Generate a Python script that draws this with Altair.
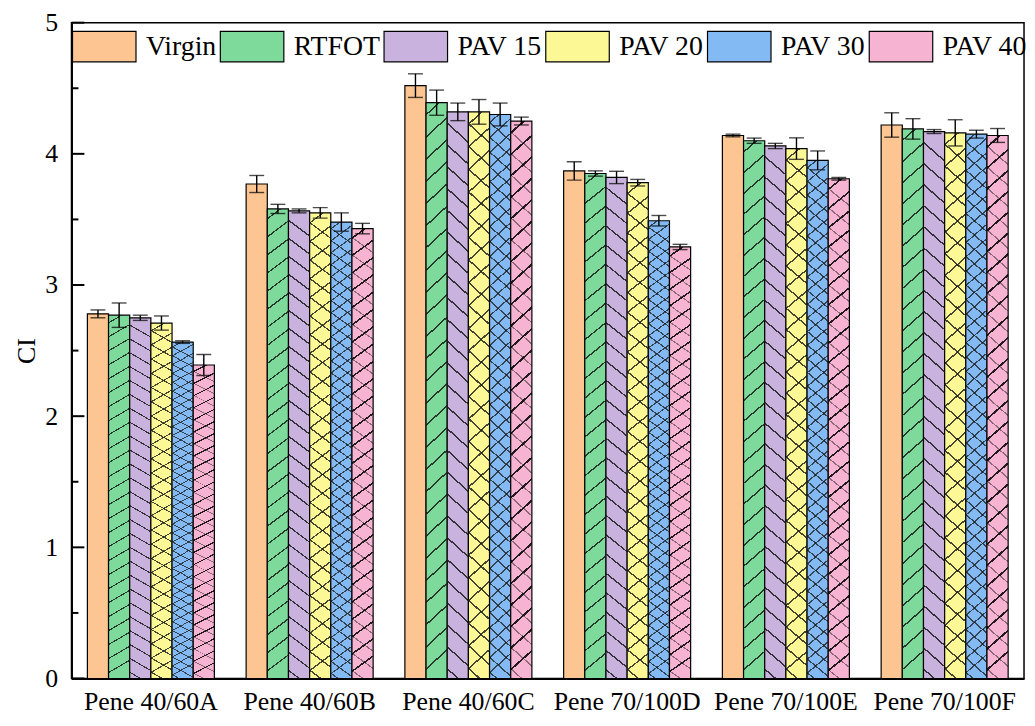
import altair as alt
import pandas as pd

groups = ["Pene 40/60A", "Pene 40/60B", "Pene 40/60C", "Pene 70/100D", "Pene 70/100E", "Pene 70/100F"]
series = ["Virgin", "RTFOT", "PAV 15", "PAV 20", "PAV 30", "PAV 40"]
colors = ["#FCC591", "#7DDA9B", "#C9B3DE", "#FCF896", "#84BAF4", "#F7B3D2"]

ci_virgin = [2.78, 3.77, 4.52, 3.87, 4.14, 4.22]
ci_rtfot = [2.77, 3.58, 4.39, 3.85, 4.10, 4.19]
ci_pav15 = [2.75, 3.565, 4.32, 3.82, 4.06, 4.17]
ci_pav20 = [2.71, 3.55, 4.32, 3.78, 4.04, 4.16]
ci_pav30 = [2.565, 3.48, 4.30, 3.49, 3.95, 4.15]
ci_pav40 = [2.39, 3.43, 4.25, 3.29, 3.81, 4.14]

err_virgin = [0.03, 0.065, 0.09, 0.07, 0.01, 0.093]
err_rtfot = [0.093, 0.035, 0.096, 0.02, 0.02, 0.078]
err_pav15 = [0.02, 0.015, 0.067, 0.047, 0.02, 0.015]
err_pav20 = [0.054, 0.04, 0.094, 0.025, 0.082, 0.10]
err_pav30 = [0.01, 0.07, 0.087, 0.04, 0.072, 0.03]
err_pav40 = [0.08, 0.04, 0.03, 0.02, 0.01, 0.053]

major_ticks = [0, 1, 2, 3, 4, 5]
minor_ticks = [0.5, 1.5, 2.5, 3.5, 4.5]

values = [ci_virgin, ci_rtfot, ci_pav15, ci_pav20, ci_pav30, ci_pav40]
errors = [err_virgin, err_rtfot, err_pav15, err_pav20, err_pav30, err_pav40]

rows = []
for s, vals, errs in zip(series, values, errors):
    for g, v, e in zip(groups, vals, errs):
        rows.append({"group": g, "series": s, "ci": v, "lo": v - e, "hi": v + e})
df = pd.DataFrame(rows)

FONT = "Liberation Serif"
FS = 26
TRANS = "rgba(0,0,0,0)"


def hatch(direction, n, frac, color, dx=0.034):
    if direction == "/":
        x1, y1, x2, y2 = 0, 0, dx, 1
    else:
        x1, y1, x2, y2 = dx, 0, 0, 1
    stops = [alt.GradientStop(color=TRANS, offset=0)]
    for k in range(n):
        a = (k + 0.5) / n
        b = a + frac / n
        stops += [
            alt.GradientStop(color=TRANS, offset=a),
            alt.GradientStop(color=color, offset=a),
            alt.GradientStop(color=color, offset=b),
            alt.GradientStop(color=TRANS, offset=b),
        ]
    return alt.Gradient(gradient="linear", stops=stops, x1=x1, y1=y1, x2=x2, y2=y2)


x_scale = alt.Scale(paddingInner=0.2, paddingOuter=0.1)
x_axis = alt.Axis(labelAngle=0, ticks=False, labelPadding=10, domainWidth=2,
                  domainColor="black", labelLimit=0)
y_scale = alt.Scale(domain=[0, 5], nice=False)
y_axis = alt.Axis(values=major_ticks, ticks=False, grid=False, labelPadding=14,
                  titlePadding=5, domainWidth=2, domainColor="black", format="d")


def X():
    return alt.X("group:N", sort=groups, title=None, scale=x_scale, axis=x_axis)


def Y(field):
    return alt.Y(field, title="CI", scale=y_scale, axis=y_axis)


xo = alt.XOffset("series:N", scale=alt.Scale(domain=series, paddingInner=0.0))

base = alt.Chart(df).mark_bar(stroke="black", strokeWidth=1.2).encode(
    x=X(),
    xOffset=xo,
    y=Y("ci:Q"),
    fill=alt.Fill("series:N", scale=alt.Scale(domain=series, range=colors),
                  legend=alt.Legend(title=None, orient="none", legendX=0, legendY=-9,
                                    direction="horizontal", columns=6,
                                    symbolType="M-1,-0.48H1V0.48H-1Z", symbolSize=4096,
                                    symbolStrokeColor="black", symbolStrokeWidth=1.2,
                                    symbolOpacity=1, labelFont=FONT, labelFontSize=28,
                                    labelColor="black", labelOffset=9, columnPadding=1,
                                    padding=0, labelLimit=0)),
)

hatch_specs = [
    ("RTFOT", hatch("/", 26, 0.09, "rgba(25,25,25,0.85)")),
    ("PAV 15", hatch("\\", 26, 0.09, "rgba(25,25,25,0.85)")),
    ("PAV 20", hatch("/", 25, 0.09, "rgba(25,25,25,0.8)")),
    ("PAV 20", hatch("\\", 25, 0.09, "rgba(25,25,25,0.8)")),
    ("PAV 30", hatch("/", 38, 0.12, "rgba(25,25,25,0.75)")),
    ("PAV 30", hatch("\\", 38, 0.12, "rgba(25,25,25,0.75)")),
    ("PAV 40", hatch("/", 26, 0.11, "rgba(10,10,10,0.9)")),
    ("PAV 40", hatch("\\", 26, 0.08, "rgba(10,10,10,0.45)")),
]

hatch_layers = [
    alt.Chart(df).transform_filter(alt.datum.series == s).mark_bar(fill=g, strokeWidth=0).encode(
        x=X(), xOffset=xo, y=Y("ci:Q"))
    for s, g in hatch_specs
]

err_rule = alt.Chart(df).mark_rule(color="black", strokeWidth=1.4).encode(
    x=X(), xOffset=xo, y=Y("lo:Q"), y2="hi:Q")
cap_lo = alt.Chart(df).mark_tick(color="black", thickness=1.4, size=15, orient="horizontal").encode(
    x=X(), xOffset=xo, y=Y("lo:Q"))
cap_hi = alt.Chart(df).mark_tick(color="black", thickness=1.4, size=15, orient="horizontal").encode(
    x=X(), xOffset=xo, y=Y("hi:Q"))

tick_major = alt.Chart(pd.DataFrame({"v": major_ticks})).mark_rule(color="black", strokeWidth=2).encode(
    y=Y("v:Q"), x=alt.value(0), x2=alt.value(13))
tick_minor = alt.Chart(pd.DataFrame({"v": minor_ticks})).mark_rule(color="black", strokeWidth=2).encode(
    y=Y("v:Q"), x=alt.value(0), x2=alt.value(7))

chart = alt.layer(base, *hatch_layers, err_rule, cap_lo, cap_hi, tick_major, tick_minor).properties(
    width=960, height=661,
    autosize=alt.AutoSizeParams(type="none"),
    padding={"left": 64, "top": 12, "right": 3, "bottom": 36},
).configure(font=FONT).configure_axis(
    labelFont=FONT, titleFont=FONT, labelFontSize=FS, titleFontSize=FS,
    labelColor="black", titleColor="black", titleFontWeight="normal",
).configure_view(stroke="black", strokeWidth=1.5)

chart.save("out.html", embed_options={"renderer": "svg", "actions": False})
